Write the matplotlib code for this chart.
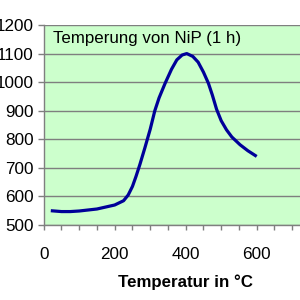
import matplotlib
matplotlib.use('Agg')
import matplotlib.pyplot as plt
from matplotlib.ticker import MultipleLocator, FixedLocator

plt.rcParams['font.family'] = ['Liberation Sans', 'DejaVu Sans']

# data
temp_c = [20, 50, 75, 100, 150, 200, 225, 238, 250, 260, 271, 285, 300, 313, 325,
          342, 360, 375, 390, 403, 420, 435, 450, 464, 475, 487, 500, 515, 530,
          553, 575, 600]
hardness = [550, 547, 547, 549, 556, 570, 585, 605, 635, 670, 712, 770, 835, 900, 945,
            996, 1045, 1078, 1095, 1100, 1090, 1070, 1035, 996, 955, 905, 865, 833, 808,
            781, 760, 740]
x_labels = [0, 200, 400, 600]
title = 'Temperung von NiP (1 h)'
xlabel = 'Temperatur in °C'

fig = plt.figure(figsize=(3, 3), dpi=100)
# the plot area runs past the right edge of the picture, as in the original
ax = fig.add_axes([43.7 / 300, 1 - 225 / 300, 284 / 300, 200 / 300])
ax.set_facecolor('#ccffcc')

ax.plot(temp_c, hardness, color='#000099', lw=2.3, solid_capstyle='butt')

ax.set_xlim(0, 800)
ax.set_ylim(500, 1200)
ax.xaxis.set_major_locator(FixedLocator(x_labels))
ax.xaxis.set_minor_locator(MultipleLocator(50))
ax.yaxis.set_major_locator(MultipleLocator(100))
ax.grid(axis='y', color='#7f7f7f', lw=1)
ax.set_axisbelow(True)

for s in ['top', 'right']:
    ax.spines[s].set_visible(False)
for s in ['left', 'bottom']:
    ax.spines[s].set_color('#7f7f7f')
    ax.spines[s].set_linewidth(1)

ax.tick_params(axis='y', which='major', direction='out', length=4.5, width=1,
               color='#7f7f7f', labelsize=12.3, pad=2.5)
ax.tick_params(axis='x', which='both', direction='out', length=3.5, width=1,
               color='#7f7f7f', labelsize=12.3, pad=12)

ax.text((52.7 - 43.7) / 284, 1 - (42.5 - 25) / 200, title, transform=ax.transAxes,
        fontsize=12.2, va='baseline', ha='left')
fig.text(185 / 300, 1 - 287.3 / 300, xlabel, fontsize=12.2, fontweight='bold',
         ha='center', va='baseline')

fig.savefig('out.png', dpi=100)
